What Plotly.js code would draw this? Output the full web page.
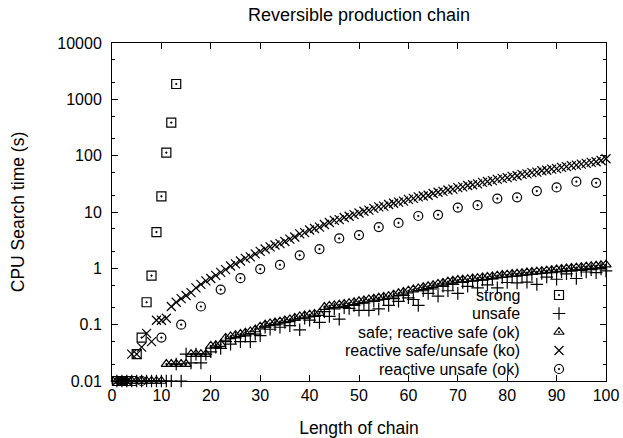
<!DOCTYPE html>
<html>
<head>
<meta charset="utf-8">
<script src="https://cdn.plot.ly/plotly-3.0.1.min.js"></script>
<style>html,body{margin:0;padding:0;background:#fff;}#chart{width:623px;height:438px;}</style>
</head>
<body>
<div id="chart"></div>
<script>
// ---------------- DATA ----------------
const strongX = [1,2,3,4,5,6,7,8,9,10,11,12,13];
const strongY = [0.01,0.01,0.01,0.01,0.03,0.059,0.25,0.74,4.4,19,113,386,1870];

const unsafeX = Array.from({length:100},(_,i)=>i+1);
const unsafeY = [
  0.01,0.01,0.01,0.01,0.01,0.01,0.01,0.01,0.01,0.01,
  0.01,0.01,0.02,0.01,0.03,0.021,0.03,0.021,0.03,0.033,
  0.04,0.038,0.05,0.045,0.058,0.05,0.063,0.05,0.068,0.064,
  0.09,0.083,0.1,0.09,0.11,0.096,0.12,0.081,0.13,0.12,
  0.14,0.11,0.17,0.14,0.19,0.125,0.2,0.195,0.22,0.18,
  0.24,0.18,0.26,0.19,0.28,0.22,0.29,0.26,0.33,0.30,
  0.28,0.22,0.40,0.36,0.43,0.32,0.48,0.40,0.52,0.36,
  0.56,0.48,0.59,0.45,0.62,0.51,0.65,0.45,0.69,0.56,
  0.72,0.55,0.75,0.57,0.78,0.52,0.81,0.70,0.84,0.64,
  0.87,0.80,0.89,0.66,0.92,0.86,0.95,0.84,0.98,0.90
];

const safeX = Array.from({length:100},(_,i)=>i+1);
const safeY = [
  0.01,0.01,0.01,0.01,0.01,0.01,0.01,0.01,0.01,0.01,
  0.02,0.02,0.02,0.02,0.02,0.03,0.03,0.03,0.03,0.042,
  0.043,0.045,0.058,0.062,0.065,0.068,0.072,0.076,0.082,0.092,
  0.1,0.105,0.109,0.113,0.119,0.124,0.132,0.14,0.145,0.15,
  0.155,0.16,0.205,0.215,0.22,0.225,0.232,0.24,0.25,0.26,
  0.27,0.28,0.29,0.30,0.31,0.32,0.34,0.36,0.38,0.40,
  0.42,0.44,0.46,0.48,0.50,0.53,0.55,0.58,0.60,0.62,
  0.63,0.64,0.66,0.67,0.69,0.70,0.72,0.74,0.76,0.77,
  0.79,0.80,0.82,0.84,0.86,0.87,0.89,0.91,0.93,0.95,
  0.97,0.99,1.01,1.03,1.05,1.07,1.09,1.11,1.13,1.16
];

const koX = Array.from({length:100},(_,i)=>i+1);
const koY = [
  0.01,0.01,0.01,0.03,0.03,0.04,0.07,0.05,0.12,0.12,
  0.13,0.21,0.25,0.29,0.33,0.37,0.45,0.52,0.6,0.66,
  0.75,0.85,0.95,1.1,1.2,1.35,1.5,1.6,1.8,2.0,
  2.2,2.4,2.6,2.75,3.0,3.3,3.6,4.1,4.3,4.8,
  5.1,5.4,6.0,6.5,7.1,7.3,8.0,8.4,9.0,9.6,
  10.3,10.8,11.6,12.3,12.7,13.6,14.3,15.0,15.6,16.8,
  17.4,18.5,19.2,19.8,21.3,22.4,23.2,24.6,25.5,27.0,
  28.0,29.5,30.5,31.6,33.6,34.8,36.0,38.0,39.4,40.8,
  43.0,44.0,46.5,47.5,50.0,51.0,54.0,55.0,57.8,59.0,
  62.0,64.0,66.5,68.0,71.0,73.0,76.0,78.0,82.0,88.0
];

const okX = [2,6,10,14,18,22,26,30,34,38,42,46,50,54,58,62,66,70,74,78,82,86,90,94,98];
const okY = [0.01,0.01,0.059,0.1,0.21,0.42,0.67,0.97,1.15,1.7,2.2,3.4,3.9,5.4,6.4,8.5,8.9,12,13.2,17.3,18.2,23.5,27.3,34.5,33];

const seriesNames = ["strong","unsafe","safe; reactive safe (ok)","reactive safe/unsafe (ko)","reactive unsafe (ok)"];
const yTickVals = [0.01,0.1,1,10,100,1000,10000];
const yTickText = ["0.01","0.1","1","10","100","1000","10000"];
const yMinorVals = [0.02,0.05,0.2,0.5,2,5,20,50,200,500,2000,5000];

// ---------------- STYLE ----------------
const FONT = '"Liberation Sans", Arial, Helvetica, sans-serif';
const W = 623, H = 438;
const box = {l:112, r:606, t:43, b:381};
const symbols = ['square-open-dot','cross-thin-open','triangle-up-open-dot','x-thin-open','circle-open-dot'];
const sizes = [9,9,9,9,9];
const allX = [strongX, unsafeX, safeX, koX, okX];
const allY = [strongY, unsafeY, safeY, koY, okY];

const traces = allX.map((xs,i)=>({
  type:'scatter', mode:'markers', x:xs, y:allY[i], name:seriesNames[i],
  showlegend:false, cliponaxis:false,
  marker:{symbol:symbols[i], size:sizes[i], color:'#000', line:{color:'#000', width:1.2}}
}));

// legend keys (layout positions, in a hidden [0,1] overlay axis)
const legTextRight = 522, legSymX = 559, legY0 = 295, legStep = 18.5;
const toPX = px => (px - box.l)/(box.r - box.l);
const toPY = py => (box.b - py)/(box.b - box.t);
const annotations = seriesNames.map((n,i)=>({
  xref:'paper', yref:'paper', x:toPX(legTextRight), y:toPY(legY0 + i*legStep),
  xanchor:'right', yanchor:'middle', text:n, showarrow:false,
  font:{family:FONT, size:16, color:'#000'}
}));
seriesNames.forEach((n,i)=>{
  traces.push({
    type:'scatter', mode:'markers', xaxis:'x2', yaxis:'y2', showlegend:false, hoverinfo:'skip',
    x:[toPX(legSymX)], y:[toPY(legY0 + i*legStep)],
    marker:{symbol:symbols[i], size:sizes[i], color:'#000', line:{color:'#000', width:1.2}}
  });
});

const layout = {
  width:W, height:H,
  margin:{l:box.l, r:W-box.r, t:box.t, b:H-box.b, pad:0},
  paper_bgcolor:'#fff', plot_bgcolor:'#fff',
  font:{family:FONT, size:16, color:'#000'},
  title:{text:'Reversible production chain', x:0.5, xref:'paper', xanchor:'center',
         y:1-15/H, yanchor:'middle', font:{family:FONT, size:18, color:'#000'}},
  showlegend:false,
  xaxis:{range:[0,100], dtick:10, tick0:0, tickmode:'linear',
         ticks:'inside', ticklen:6, tickwidth:1, tickcolor:'#000',
         showline:true, linecolor:'#000', linewidth:1, mirror:'ticks',
         showgrid:false, zeroline:false,
         tickfont:{family:FONT, size:16, color:'#000'},
         title:{text:'Length of chain', font:{family:FONT, size:17.5, color:'#000'}, standoff:18}},
  yaxis:{type:'log', range:[-2,4], tickmode:'array', tickvals:yTickVals, ticktext:yTickText,
         ticks:'inside', ticklen:6, tickwidth:1, tickcolor:'#000', ticklabelstandoff:6,
         minor:{tickmode:'array', tickvals:yMinorVals, ticks:'inside', ticklen:3, tickcolor:'#000', showgrid:false},
         showline:true, linecolor:'#000', linewidth:1, mirror:'ticks',
         showgrid:false, zeroline:false,
         tickfont:{family:FONT, size:16, color:'#000'},
         title:{text:'CPU Search time (s)', font:{family:FONT, size:17.5, color:'#000'}, standoff:28}},
  xaxis2:{overlaying:'x', range:[0,1], visible:false, fixedrange:true},
  yaxis2:{overlaying:'y', range:[0,1], visible:false, fixedrange:true},
  annotations:annotations
};

Plotly.newPlot('chart', traces, layout, {displayModeBar:false, staticPlot:true});
</script>
</body>
</html>
